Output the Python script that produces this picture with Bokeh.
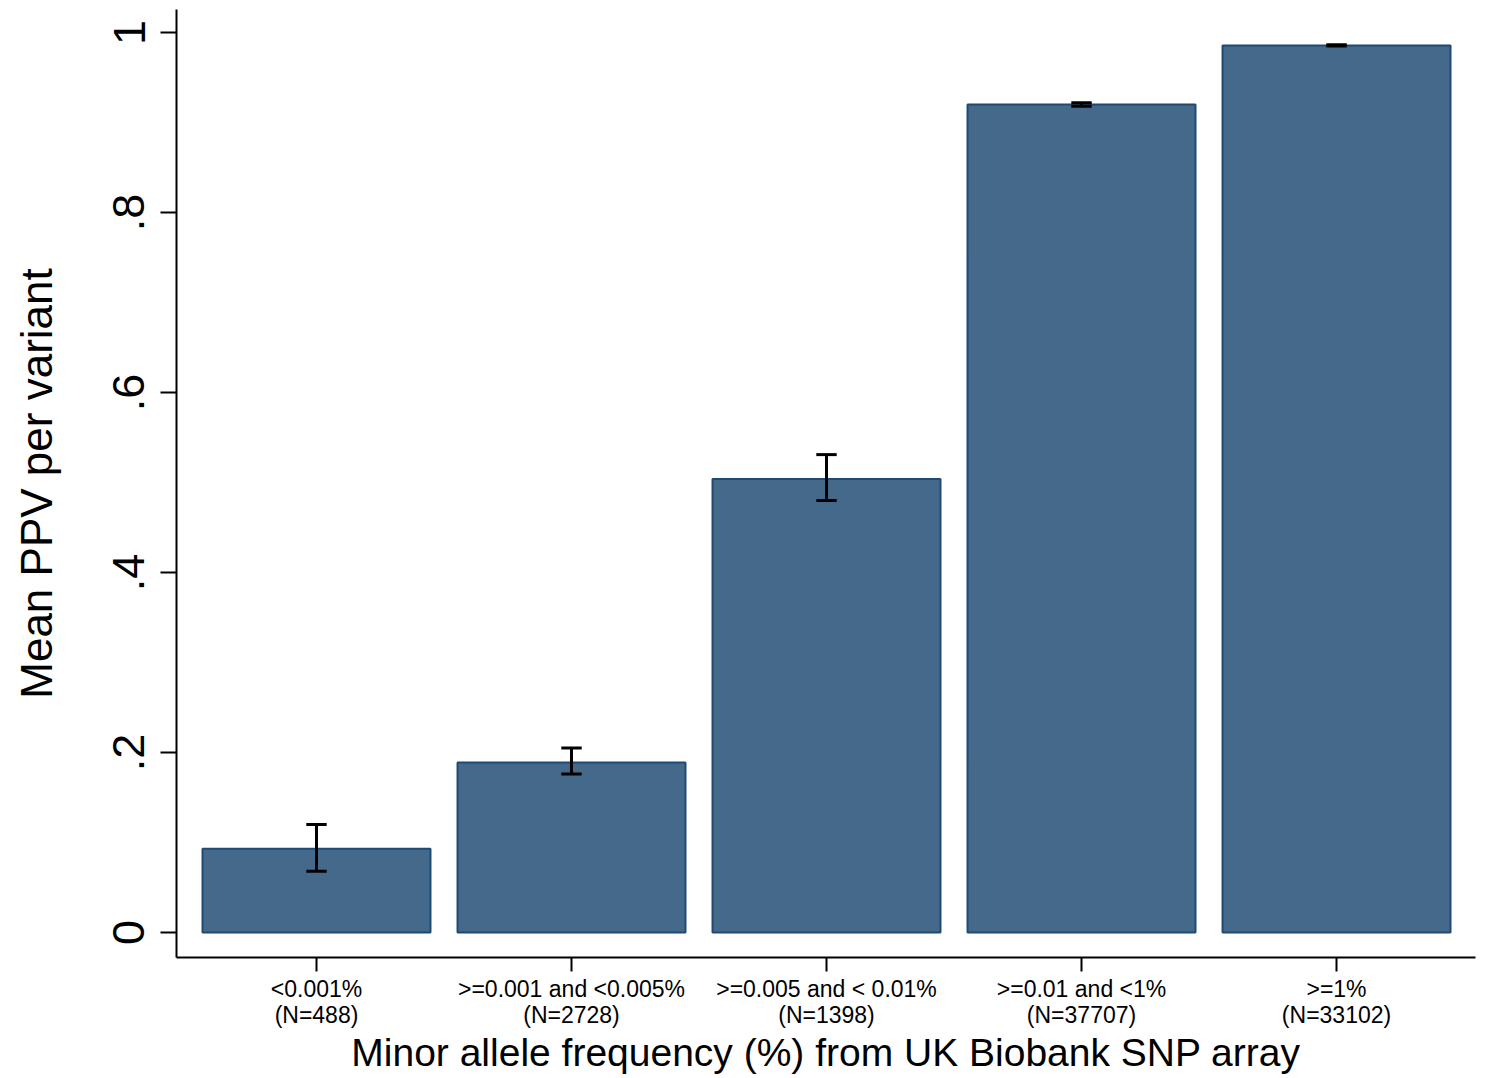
from bokeh.plotting import figure
from bokeh.models import Range1d, FixedTicker
from bokeh.embed import file_html
from bokeh.resources import INLINE

categories = ["<0.001%\n(N=488)", ">=0.001 and <0.005%\n(N=2728)",
              ">=0.005 and < 0.01%\n(N=1398)", ">=0.01 and <1%\n(N=37707)",
              ">=1%\n(N=33102)"]
positions = [1, 2, 3, 4, 5]
mean_ppv = [0.093, 0.189, 0.504, 0.920, 0.9855]
ci_low = [0.068, 0.176, 0.480, 0.918, 0.985]
ci_high = [0.120, 0.205, 0.531, 0.922, 0.9865]
y_ticks = [0, 0.2, 0.4, 0.6, 0.8, 1.0]
y_tick_labels = ["0", ".2", ".4", ".6", ".8", "1"]

FONT = "Liberation Sans"

p = figure(width=1484, height=1076, output_backend="svg", toolbar_location=None,
           x_range=Range1d(0.451, 5.545), y_range=Range1d(-0.0278, 1.0256),
           min_border_left=176, min_border_right=9, min_border_top=9, min_border_bottom=119)
p.outline_line_color = None
p.xgrid.visible = False
p.ygrid.visible = False
p.background_fill_color = "white"
p.border_fill_color = "white"

p.vbar(x=positions, top=mean_ppv, bottom=0, width=0.894,
       fill_color="#44698b", line_color="#1f4b73", line_width=2)

cap = 0.04
p.segment(x0=positions, y0=ci_low, x1=positions, y1=ci_high, line_color="black", line_width=3)
p.segment(x0=[x - cap for x in positions], y0=ci_low, x1=[x + cap for x in positions], y1=ci_low,
          line_color="black", line_width=3)
p.segment(x0=[x - cap for x in positions], y0=ci_high, x1=[x + cap for x in positions], y1=ci_high,
          line_color="black", line_width=3)

# x axis
p.xaxis.ticker = FixedTicker(ticks=positions)
p.xaxis.major_label_overrides = {pos: lab for pos, lab in zip(positions, categories)}
p.xaxis.minor_tick_line_color = None
p.xaxis.major_tick_out = 14
p.xaxis.major_tick_in = 0
p.xaxis.major_tick_line_width = 2
p.xaxis.axis_line_width = 2
p.xaxis.major_label_text_font = FONT
p.xaxis.major_label_text_font_size = "23px"
p.xaxis.major_label_text_line_height = 1.0
p.xaxis.major_label_text_color = "black"
p.xaxis.major_label_standoff = 4
p.xaxis.axis_label = "Minor allele frequency (%) from UK Biobank SNP array"
p.xaxis.axis_label_text_font = FONT
p.xaxis.axis_label_text_font_style = "normal"
p.xaxis.axis_label_text_font_size = "39px"
p.xaxis.axis_label_text_color = "black"
p.xaxis.axis_label_standoff = 0

# y axis
p.yaxis.ticker = FixedTicker(ticks=y_ticks)
p.yaxis.major_label_overrides = {t: l for t, l in zip(y_ticks, y_tick_labels)}
p.yaxis.minor_tick_line_color = None
p.yaxis.major_tick_out = 16
p.yaxis.major_tick_in = 0
p.yaxis.major_tick_line_width = 2
p.yaxis.axis_line_width = 2
p.yaxis.major_label_orientation = "vertical"
p.yaxis.major_label_text_font = FONT
p.yaxis.major_label_text_font_size = "45px"
p.yaxis.major_label_text_color = "black"
p.yaxis.major_label_standoff = 16
p.yaxis.axis_label = "Mean PPV per variant"
p.yaxis.axis_label_text_font = FONT
p.yaxis.axis_label_text_font_style = "normal"
p.yaxis.axis_label_text_font_size = "44px"
p.yaxis.axis_label_text_color = "black"
p.yaxis.axis_label_standoff = 50

open("out.html", "w").write(file_html(p, INLINE))
